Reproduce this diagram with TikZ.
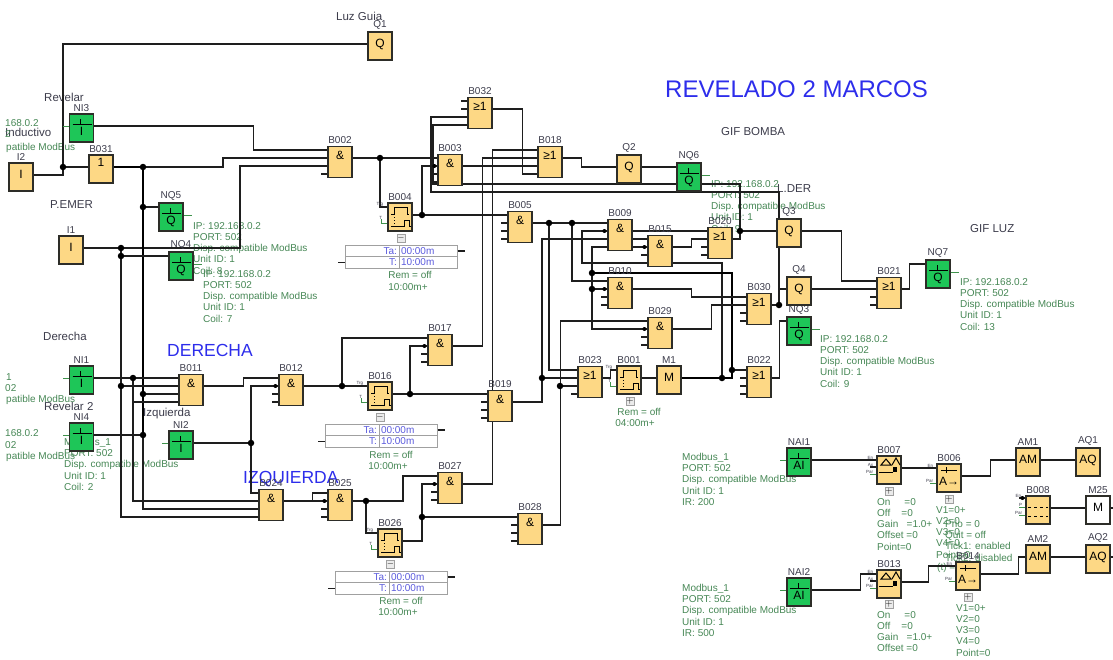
\documentclass[tikz,border=0pt]{standalone}
\usepackage{fontspec}
\setmainfont{Liberation Sans}
\usepackage{xcolor}
\usetikzlibrary{backgrounds}
\definecolor{blockfill}{RGB}{253,216,133}
\definecolor{netgreen}{RGB}{30,198,88}
\definecolor{blockline}{RGB}{45,45,40}
\definecolor{wirecol}{RGB}{30,30,30}
\definecolor{infogreen}{RGB}{70,135,85}
\definecolor{notedark}{RGB}{60,60,75}
\definecolor{titleblue}{RGB}{45,45,235}
\definecolor{tablegray}{RGB}{160,160,160}
\definecolor{tableblue}{RGB}{90,90,220}
\newcommand{\iplines}[1]{IP: 192.168.0.2\\PORT: 502\\Disp. compatible ModBus\\Unit ID: 1\\Coil: #1}
\newcommand{\mblines}[1]{Modbus\_1\\PORT: 502\\Disp. compatible ModBus\\Unit ID: 1\\#1}
\tikzset{
  block/.style={rectangle,draw=blockline,fill=blockfill,line width=1.25pt,
    minimum width=24pt,minimum height=28pt,inner sep=0pt,
    font=\fontsize{12}{12}\selectfont},
  gateblock/.style={block,minimum height=31pt,text height=8pt,text depth=14pt},
  plainblock/.style={block,text height=8pt,text depth=6pt},
  netblock/.style={block,fill=netgreen,text height=16pt,text depth=2pt},
  timerblock/.style={block},
  muxblock/.style={block,text height=16pt,text depth=2pt},
  blocklabel/.style={font=\fontsize{10}{10}\selectfont,text=notedark,inner sep=0pt,label distance=2pt},
  blockname/.style={label={[blocklabel]above:#1}},
  junction/.style={circle,fill=black,inner sep=0pt,minimum size=6.5pt},
  negpin/.style={circle,fill=black,inner sep=0pt,minimum size=4pt},
  wire/.style={line width=1.25pt,draw=wirecol},
  heavywire/.style={line width=1.8pt,draw=black},
  pinstub/.style={line width=1.2pt,draw=wirecol},
  greenstub/.style={line width=.9pt,draw=infogreen!90!green},
  glyphline/.style={line width=1pt,draw=black},
  infotext/.style={font=\fontsize{10}{11.25}\selectfont,text=infogreen,align=left,
    anchor=north west,inner sep=0pt},
  remtext/.style={font=\fontsize{10}{10}\selectfont,text=infogreen,inner sep=0pt},
  annot/.style={font=\fontsize{11.5}{12}\selectfont,text=notedark,anchor=west,inner sep=0pt},
  titletext/.style={text=titleblue,anchor=west,inner sep=0pt},
  tablekey/.style={rectangle,draw=tablegray,line width=1pt,minimum width=54pt,minimum height=11.5pt,
    text width=50pt,align=right,inner sep=2pt,text=tableblue,font=\fontsize{10}{10}\selectfont},
  tableval/.style={rectangle,draw=tablegray,line width=1pt,minimum width=58pt,minimum height=11.5pt,
    text width=54pt,align=left,inner sep=2pt,text=tableblue,font=\fontsize{10}{10}\selectfont},
  expandbox/.style={rectangle,draw=tablegray,fill=black!8,line width=.7pt,minimum size=8pt,
    inner sep=0pt,font=\fontsize{9}{9}\selectfont},
  pintext/.style={font=\fontsize{4.5}{4.5}\selectfont,text=notedark,inner sep=0pt,anchor=south east}
}
\begin{document}
\begin{tikzpicture}[x=1pt,y=-1pt]
  \useasboundingbox (0,0) rectangle (1113,659);
  % Inputs and network blocks
  \node[plainblock,blockname=I2] (i2) at (21,177) {I};
  \node[plainblock,blockname=I1] (i1) at (71,250) {I};
  \node[netblock,blockname=NI3] (ni3) at (81.5,128) {I};
  \node[netblock,blockname=NI1] (ni1) at (81.5,380) {I};
  \node[netblock,blockname=NI4] (ni4) at (81.5,437) {I};
  \node[netblock,blockname=NI2] (ni2) at (181,445) {I};
  \node[netblock,blockname=NQ5] (nq5) at (171,217) {Q};
  \node[netblock,blockname=NQ4] (nq4) at (181,266) {Q};
  \node[netblock,blockname=NQ6] (nq6) at (689,177) {Q};
  \node[netblock,blockname=NQ3] (nq3) at (799,331) {Q};
  \node[netblock,blockname=NQ7] (nq7) at (938,274) {Q};
  \node[netblock,blockname=NAI1] (nai1) at (799,462) {AI};
  \node[netblock,blockname=NAI2] (nai2) at (799,592) {AI};
  % Outputs and markers
  \node[plainblock,blockname=Q1] (q1) at (380,46) {Q};
  \node[plainblock,blockname=Q2] (q2) at (629,169) {Q};
  \node[plainblock,blockname=Q3] (q3) at (789,233) {Q};
  \node[plainblock,blockname=Q4] (q4) at (799,291) {Q};
  \node[plainblock,blockname=M1] (m1) at (669,380) {M};
  \node[plainblock,fill=white,blockname=M25] (m25) at (1098,510) {M};
  \node[plainblock,blockname=AM1] (am1) at (1028,462) {AM};
  \node[plainblock,blockname=AM2] (am2) at (1038,559) {AM};
  \node[plainblock,blockname=AQ1] (aq1) at (1088,462) {AQ};
  \node[plainblock,blockname=AQ2] (aq2) at (1098,559) {AQ};
  % Logic gates
  \node[gateblock,text height=8pt,text depth=14pt,blockname=B031,minimum height=28pt] (b031) at (101,169) {1};
  \node[gateblock,blockname=B002] (b002) at (340,162) {\&};
  \node[gateblock,blockname=B003] (b003) at (450,170) {\&};
  \node[gateblock,blockname=B032] (b032) at (480,113) {≥1};
  \node[gateblock,blockname=B018] (b018) at (550,162) {≥1};
  \node[gateblock,blockname=B005] (b005) at (520,227) {\&};
  \node[gateblock,blockname=B009] (b009) at (620,235) {\&};
  \node[gateblock,blockname=B015] (b015) at (660,251) {\&};
  \node[gateblock,blockname=B020] (b020) at (720,243) {≥1};
  \node[gateblock,blockname=B010] (b010) at (620,293) {\&};
  \node[gateblock,blockname=B029] (b029) at (660,333) {\&};
  \node[gateblock,blockname=B030] (b030) at (759,309) {≥1};
  \node[gateblock,blockname=B023] (b023) at (590,382) {≥1};
  \node[gateblock,blockname=B022] (b022) at (759,382) {≥1};
  \node[gateblock,blockname=B021] (b021) at (889,293) {≥1};
  \node[gateblock,blockname=B011] (b011) at (191,390) {\&};
  \node[gateblock,blockname=B012] (b012) at (291,390) {\&};
  \node[gateblock,blockname=B017] (b017) at (440,350) {\&};
  \node[gateblock,blockname=B019] (b019) at (500,406) {\&};
  \node[gateblock,blockname=B024] (b024) at (271,505) {\&};
  \node[gateblock,blockname=B025] (b025) at (340,505) {\&};
  \node[gateblock,blockname=B027] (b027) at (450,488) {\&};
  \node[gateblock,blockname=B028] (b028) at (530,529) {\&};
  % Timers and analog blocks
  \node[timerblock,blockname=B004] (b004) at (400,217) {};
  \node[timerblock,blockname=B016] (b016) at (380,396) {};
  \node[timerblock,blockname=B026] (b026) at (390,543) {};
  \node[timerblock,blockname=B001] (b001) at (629,380) {};
  \node[timerblock,blockname=B007] (b007) at (889,470) {};
  \node[timerblock,blockname=B013] (b013) at (889,584) {};
  \node[muxblock,blockname=B006] (b006) at (949,478) {A→};
  \node[muxblock,blockname=B014] (b014) at (968,576) {A→};
  \node[timerblock,blockname=B008] (b008) at (1038,510) {};

  % Pin points
  \foreach \b in {b002,b003,b005,b009,b010,b011,b012,b015,b017,b018,b019,b020,b021,b022,b023,b024,b025,b027,b028,b029,b030,b032} {
    \coordinate (\b-i1) at ([yshift=12pt]\b.west);
    \coordinate (\b-i2) at ([yshift=4pt]\b.west);
    \coordinate (\b-i3) at ([yshift=-4pt]\b.west);
    \coordinate (\b-i4) at ([yshift=-12pt]\b.west);
    \coordinate (\b-o) at ([yshift=4pt]\b.east);
    \foreach \p in {i1,i2,i3,i4}
      \draw[pinstub] (\b-\p) -- +(-6,0);
  }
  \foreach \b in {q1,q2,q3,q4,i1,i2,b031,m1,m25,am1,am2,aq1,aq2,ni1,ni2,ni3,ni4,nai1,nai2} {
    \coordinate (\b-i) at ([yshift=2pt]\b.west);
    \coordinate (\b-o) at ([yshift=2pt]\b.east);
  }
  \foreach \b in {nq3,nq4,nq5,nq6,nq7}
    \coordinate (\b-i) at ([yshift=10pt]\b.west);
  \foreach \b in {b004,b016,b026,b001} {
    \coordinate (\b-t) at ([yshift=10pt]\b.west);
    \coordinate (\b-p) at ([yshift=-6pt]\b.west);
    \coordinate (\b-o) at ([yshift=2pt]\b.east);
    \draw[pinstub] (\b-t) -- +(-6,0);
    \draw[greenstub] (\b-p) -- +(-6,0) -- +(-6,-4);
    \node[pintext] (\b-tl) at ([xshift=-4pt]\b-t) {Trg};
    \node[pintext] (\b-pl) at ([xshift=-5pt,yshift=3pt]\b-p) {T};
  }
  \foreach \b in {b007,b013} {
    \coordinate (\b-i1) at ([yshift=10pt]\b.west);
    \coordinate (\b-i2) at ([yshift=3pt]\b.west);
    \coordinate (\b-i3) at ([yshift=-4pt]\b.west);
    \coordinate (\b-o) at ([yshift=2pt]\b.east);
    \draw[pinstub] (\b-i1) -- +(-6,0);
    \draw[pinstub] (\b-i2) -- +(-6,0);
    \draw[greenstub] (\b-i3) -- +(-6,0);
    \node[pintext] (\b-tl) at ([xshift=-3pt]\b-i1) {En};
    \node[pintext] (\b-ml) at ([xshift=-3pt]\b-i2) {Ax};
    \node[pintext] (\b-pl) at ([xshift=-3pt]\b-i3) {Par};
  }
  \foreach \b in {b006,b014} {
    \coordinate (\b-i) at ([yshift=10pt]\b.west);
    \coordinate (\b-p) at ([yshift=-5pt]\b.west);
    \coordinate (\b-o) at ([yshift=2pt]\b.east);
    \draw[pinstub] (\b-i) -- +(-6,0);
    \draw[greenstub] (\b-p) -- +(-6,0);
    \node[pintext] (\b-tl) at ([xshift=-3pt]\b-i) {En};
    \node[pintext] (\b-pl) at ([xshift=-3pt]\b-p) {Par};
  }
  \coordinate (b008-i1) at ([yshift=12pt]b008.west);
  \coordinate (b008-i2) at ([yshift=3pt]b008.west);
  \coordinate (b008-i3) at ([yshift=-5pt]b008.west);
  \coordinate (b008-o) at ([yshift=2pt]b008.east);
  \draw[pinstub] (b008-i1) -- +(-6,0);
  \draw[greenstub] (b008-i2) -- +(-6,0);
  \draw[greenstub] (b008-i3) -- +(-6,0);
  \node[pintext] (b008-tl) at ([xshift=-4pt]b008-i1) {En};
  \node[pintext] (b008-ml) at ([xshift=-3pt]b008-i2) {P};
  \node[pintext] (b008-pl) at ([xshift=-3pt]b008-i3) {Par};
  \node[negpin] (neg-b008) at ([xshift=-3pt]b008-i1) {};
  \foreach \b in {b003,b009,b010,b012,b015,b017,b025,b027,b029}
    \node[negpin] (neg-\b) at ([xshift=-3pt]\b-i2) {};

  % Network stubs
  \foreach \b in {ni1,ni2,ni3,ni4,nai1,nai2}
    \draw[greenstub] (\b-i) -- +(-6,0);
  \foreach \b in {nq3,nq4,nq5,nq6,nq7}
    \draw[greenstub] ([yshift=2pt]\b.east) -- +(8,0);
  \draw[pinstub] (m25-o) -- +(4,0);
  \draw[pinstub] (aq2-o) -- +(4,0);

  % Block symbols
  \foreach \b in {ni1,ni2,ni3,ni4,nq3,nq4,nq5,nq6,nq7,nai1,nai2} {
    \begin{scope}[shift={(\b.center)}]
      \draw[glyphline] (-9,-4) -- (10,-4) (-1,-9) -- (-1,-4);
    \end{scope}
  }
  \foreach \b in {b004,b016,b026,b001} {
    \begin{scope}[shift={(\b.center)}]
      \draw[glyphline] (-9,-3) -- (-6,-3) -- (-6,-10) -- (7,-10) -- (7,-3) -- (9,-3);
      \draw[glyphline] (-9,9) -- (4,9) -- (4,3) -- (9,3) -- (9,9) -- (11,9);
      \draw[glyphline,dotted] (-6,-3) -- (-6,9);
    \end{scope}
  }
  \foreach \b in {b007,b013} {
    \begin{scope}[shift={(\b.center)}]
      \draw[glyphline] (-8,-5) -- (-3,-11) -- (2,-5) -- cycle;
      \draw[glyphline] (3,-5) -- (7,-12) -- (11,-5);
      \draw[glyphline] (-10,2) -- (4,2);
      \fill[black] (4,-3) rectangle (8,2);
    \end{scope}
  }
  \foreach \b in {b006,b014} {
    \begin{scope}[shift={(\b.center)}]
      \draw[glyphline] (-8,-8) -- (8,-8) (-3,-11) -- (-3,-5);
    \end{scope}
  }
  \begin{scope}[shift={(b008.center)}]
    \draw[glyphline,dashed] (-10,-3) -- (10,-3);
    \draw[glyphline,dashed] (-10,6) -- (10,6);
  \end{scope}

  % Expand buttons
  \node[expandbox] (x004) at (401,238) {$-$};
  \node[expandbox] (x016) at (380,417) {$-$};
  \node[expandbox] (x026) at (390.5,564) {$-$};
  \node[expandbox] (x001) at (630,401) {$+$};
  \node[expandbox] (x007) at (889,491) {$+$};
  \node[expandbox] (x013) at (889,604) {$+$};
  \node[expandbox] (x006) at (949,499) {$+$};
  \node[expandbox] (x014) at (968,597) {$+$};

  % Timer tables
  \foreach \b/\x/\y in {b004/372/251,b016/352/430,b026/362/577} {
    \node[tablekey] (\b-ka) at (\x,\y) {Ta:};
    \node[tableval] (\b-va) at (\x+56,\y) {00:00m};
    \node[tablekey] (\b-kt) at (\x,\y+11.5) {T:};
    \node[tableval] (\b-vt) at (\x+56,\y+11.5) {10:00m};
    \draw[pinstub] (\b-va.east) -- +(7,0);
    \draw[pinstub] (\b-kt.west) -- +(-7,0);
  }

  % Junctions
  \foreach \j/\x/\y in {i2/63/167,b031/143/167,nq5/143/207,i1/121/248,nq4/121/256,ni1/133/378,
      b011b/121/386,b011c/143/394,ni4/143/435,ni2/251/443,b012/342/386,b016/410/394,
      b002/380/158,b004/422/215,b005a/549/223,b005b/572/223,b010/592/289,loop/592/273,
      b019/542/378,b028/560/386,m1a/722/378,m1b/732/370,b020/740/231,b030/779/305,
      b025/366/501,b026/422/517}
    \node[junction] (j-\j) at (\x,\y) {};

  \begin{scope}[on background layer]
    % Titles and notes
    \node[titletext,font=\fontsize{24}{24}\selectfont] (title) at (665,89) {REVELADO 2 MARCOS};
    \node[titletext,font=\fontsize{17.5}{18}\selectfont] (derecha) at (167,350) {DERECHA};
    \node[titletext,font=\fontsize{17.5}{18}\selectfont] (izquierda) at (243,479) {IZQUIERDA};
    \node[annot] (n-luz) at (336,16) {Luz Guia};
    \node[annot] (n-rev) at (44,97) {Revelar};
    \node[annot] (n-ind) at (5,132) {Inductivo};
    \node[annot] (n-emer) at (50,205) {P.EMER};
    \node[annot] (n-der) at (43,336) {Derecha};
    \node[annot] (n-rev2) at (44,406) {Revelar 2};
    \node[annot] (n-izq) at (143,414) {Izquierda};
    \node[annot] (n-bomba) at (721,132) {GIF BOMBA};
    \node[annot] (n-lder) at (777,189) {L.DER};
    \node[annot] (n-gifluz) at (970,229) {GIF LUZ};

    % Network settings
    \node[infotext] (t-ni3a) at (5,119) {168.0.2};
    \node[infotext] (t-ni3b) at (5,130) {2};
    \node[infotext] (t-ni3c) at (6,143) {patible ModBus};
    \node[infotext] (t-ni1a) at (6,373) {1};
    \node[infotext] (t-ni1b) at (5,384) {02};
    \node[infotext] (t-ni1c) at (6,395) {patible ModBus};
    \node[infotext] (t-ni4a) at (5,429) {168.0.2};
    \node[infotext] (t-ni4b) at (5,441) {02};
    \node[infotext] (t-ni4c) at (6,452) {patible ModBus};
    \node[infotext] (t-ni2) at (64,438) {\mblines{Coil: 2}};
    \node[infotext] (t-nq5) at (193,222) {\iplines{8}};
    \node[infotext] (t-nq4) at (203,270) {\iplines{7}};
    \node[infotext] (t-nq6) at (711,180) {\iplines{9}};
    \node[infotext] (t-nq3) at (820,335) {\iplines{9}};
    \node[infotext] (t-nq7) at (960,278) {\iplines{13}};
    \node[infotext] (t-nai1) at (682,453) {\mblines{IR: 200}};
    \node[infotext] (t-nai2) at (682,584) {\mblines{IR: 500}};
    \node[infotext] (t-b007) at (877,498) {On \ \ \ \ =0\\Off \ \ \ =0\\Gain \ \ =1.0+\\Offset =0\\Point=0};
    \node[infotext] (t-b013) at (877,611) {On \ \ \ \ =0\\Off \ \ \ =0\\Gain \ \ =1.0+\\Offset =0};
    \node[infotext] (t-b006) at (936,506) {V1=0+\\V2=0\\V3=0\\V4=0\\Point=0};
    \node[infotext] (t-b008) at (945,520) {Prio = 0\\Quit = off\\Tick1: enabled\\Tick2: disabled};
    \node[infotext] (t-b008b) at (937,563) {(t) =0+0};
    \node[infotext] (t-b014) at (956,604) {V1=0+\\V2=0\\V3=0\\V4=0\\Point=0};
    \node[remtext] (r-b004a) at (410,275) {Rem = off};
    \node[remtext] (r-b004b) at (408,287) {10:00m+};
    \node[remtext] (r-b016a) at (391,455) {Rem = off};
    \node[remtext] (r-b016b) at (388,466) {10:00m+};
    \node[remtext] (r-b026a) at (401,601) {Rem = off};
    \node[remtext] (r-b026b) at (398,612) {10:00m+};
    \node[remtext] (r-b001a) at (639,412) {Rem = off};
    \node[remtext] (r-b001b) at (635,423) {04:00m+};

    % Left side wiring
    \draw[wire] (i2-o) -| (j-i2);
    \draw[wire] (j-i2) |- (q1-i);
    \draw[wire] (j-i2) -- (b031-i);
    \draw[heavywire] (b031-o) -- (j-b031);
    \draw[wire] (j-b031) -- ++(80,0) |- (b002-i2);
    \draw[wire] (ni3-o) -- ++(159.5,0) |- (b002-i1);
    \draw[wire] (i1-o) -- (j-i1);
    \draw[wire] (j-i1) -- ++(119,0) |- (b002-i3);
    \draw[heavywire] (j-b031) -- (j-nq5) -- (j-b011c) -- (j-ni4);
    \draw[wire] (j-ni4) |- (b024-i3);
    \draw[wire] (j-nq5) -- (nq5-i);
    \draw[wire] (j-b011c) -- (b011-i3);
    \draw[wire] (ni4-o) -- (j-ni4);
    \draw[wire] (j-i1) -- (j-nq4) -- (j-b011b);
    \draw[wire] (j-b011b) |- (b024-i4);
    \draw[wire] (j-nq4) -- (nq4-i);
    \draw[wire] (j-b011b) -- (b011-i2);
    \draw[wire] (ni1-o) -- (j-ni1) -- (b011-i1);
    \draw[wire] (j-ni1) |- (b024-i2);
    \draw[wire] (b011-i4) -- (j-ni1 |- b011-i4);
    \draw[wire] (ni2-o) -- (j-ni2);
    \draw[wire] (j-ni2) |- (b012-i2);
    \draw[wire] (j-ni2) |- (b024-i1);
    \draw[wire] (b011-o) -- ++(40,0) |- (b012-i1);
    \draw[wire] (b012-o) -- (j-b012) -- (b016-t);
    \draw[wire] (j-b012) |- (b017-i1);
    \draw[wire] (b016-o) -- (j-b016) -- (b019-i1);
    \draw[wire] (j-b016) |- (b017-i2);
    \draw[wire] (b017-o) -- ++(30,0) |- (b018-i2);
    \draw[wire] (b024-o) -- (b025-i2);
    \draw[wire] (b024-o) -- ++(29,0) |- (b025-i1);
    \draw[wire] (b025-o) -- (j-b025);
    \draw[wire] (j-b025) -- ++(37,0) |- (b027-i1);
    \draw[wire] (j-b025) |- (b026-t);
    \draw[wire] (b026-o) -| (j-b026);
    \draw[wire] (j-b026) |- (b027-i2);
    \draw[wire] (j-b026) -- (b028-i1);
    \draw[wire] (b027-o) -- ++(30,0) |- (b018-i1);

    % Middle wiring
    \draw[wire] (b002-o) -- (j-b002) -- (b003-i1);
    \draw[wire] (j-b002) |- (b004-t);
    \draw[wire] (b004-o) -- (j-b004) -- (b005-i1);
    \draw[wire] (j-b004) |- (b003-i2);
    \draw[wire] (b003-o) -- (b018-i3);
    \draw[wire] (b032-o) -- ++(30,0) |- (b018-i4);
    \draw[wire] (b018-o) -- ++(19,0) |- (q2-i);
    \draw[wire] (q2-o) -- (nq6-i);
    \draw[wire] (b005-o) -- (j-b005a) -- (j-b005b) -- (b009-i1);
    \draw[wire] (j-b005a) |- (b023-i1);
    \draw[wire] (j-b005b) |- (b010-i1);
    \draw[wire] (b019-o) -| (j-b019);
    \draw[wire] (j-b019) -- (b023-i2);
    \draw[wire] (j-b019) |- (b015-i1);
    \draw[wire] (b028-o) -- ++(18,0) |- (b029-i1);
    \draw[wire] (j-b028) -- (b023-i3);
    \draw[wire] (b023-o) -- ++(8,0) |- (b001-t);
    \draw[wire] (b001-o) -- (m1-i);

    % Right side wiring
    \draw[heavywire] (m1-o) -- (j-m1a);
    \draw[heavywire] (j-m1a) -| (j-m1b);
    \draw[wire] (j-m1b) -- (b022-i1);
    \draw[wire] (j-m1a) |- (582,263) |- (b009-i2);
    \draw[heavywire] (j-m1b) |- (j-loop);
    \draw[wire] (b015-i2) -| (j-loop);
    \draw[wire] (j-loop) -- (j-b010);
    \draw[wire] (j-b010) |- (b029-i2);
    \draw[wire] (j-b010) -- (b010-i2);
    \draw[wire] (b009-o) -- (b020-i1);
    \draw[wire] (b015-o) -- ++(19,0) |- (b020-i2);
    \draw[wire] (b020-o) -| (j-b020);
    \draw[wire] (j-b020) -- (q3-i);
    \draw[wire] (j-b020) |- (433,184) |- (b032-i4);
    \draw[wire] (b010-o) -- ++(59,0) |- (b030-i1);
    \draw[wire] (b029-o) -- ++(39,0) |- (b030-i2);
    \draw[wire] (b030-o) -- (j-b030);
    \draw[wire] (j-b030) |- (q4-i);
    \draw[wire] (j-b030) |- (431,192) |- (b032-i3);
    \draw[wire] (b022-o) -- ++(8,0) |- (nq3-i);
    \draw[wire] (q3-o) -- ++(40,0) |- (b021-i1);
    \draw[wire] (q4-o) -- (b021-i2);
    \draw[wire] (b021-o) -- ++(8,0) |- (nq7-i);

    % Analog wiring
    \draw[wire] (nai1-o) -- (b007-i1);
    \draw[wire] (nai2-o) -- ++(49,0) |- (b013-i1);
    \draw[wire] (b007-o) -- (b006-i);
    \draw[wire] (b013-o) -- ++(27,0) |- (b014-i);
    \draw[wire] (b006-o) -- ++(29,0) |- (am1-i);
    \draw[wire] (am1-o) -- (aq1-i);
    \draw[wire] (b014-o) -- ++(38,0) |- (am2-i);
    \draw[wire] (am2-o) -- (aq2-i);
    \draw[wire] (b008-o) -- (m25-i);
  \end{scope}
\end{tikzpicture}
\end{document}
